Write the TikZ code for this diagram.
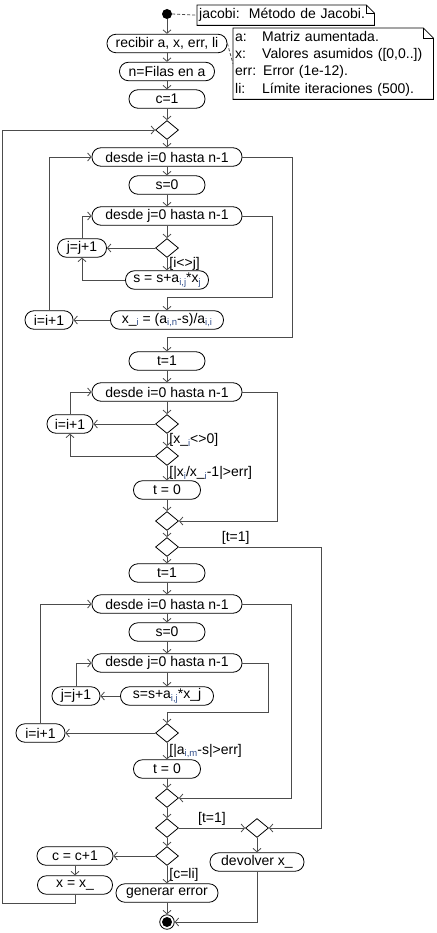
\documentclass[tikz,border=0pt]{standalone}
\usepackage{fontspec}
\setmainfont{Liberation Sans}
\usetikzlibrary{shapes.geometric,arrows.meta}
\definecolor{subazul}{RGB}{50,80,140}
\newcommand{\subi}[1]{\raisebox{-0.35ex}{\fontsize{9.5}{9.5}\selectfont\color{subazul}#1}}
\newcommand{\dibujanota}[2]{%
  \draw[line width=0.8pt] (#1.south west) -- (#1.north west) -- ([xshift=-#2]#1.north east)
    -- ([yshift=-#2]#1.north east) -- (#1.south east) -- cycle;
  \draw[line width=0.8pt] ([xshift=-#2]#1.north east) |- ([yshift=-#2]#1.north east);}
\tikzset{
  actividad/.style={draw, line width=0.8pt, rounded corners=9pt, minimum height=18.5pt,
    inner xsep=3pt, inner ysep=1pt, font=\fontsize{14}{16}\selectfont},
  decision/.style={draw, line width=0.8pt, diamond, minimum width=23pt, minimum height=19pt, inner sep=0pt},
  flujo/.style={draw=black!70, line width=0.8pt, -{Straight Barb[length=3.5pt,width=8pt]}},
  nota/.style={inner sep=2pt, anchor=north west, align=left, font=\fontsize{14}{17.3}\selectfont},
  enlace/.style={draw=black!70, line width=0.8pt, dash pattern=on 3pt off 2pt},
  etiqueta/.style={font=\fontsize{14}{16}\selectfont, inner sep=2pt},
}
\begin{document}
\begin{tikzpicture}[x=1pt,y=-1pt]
\useasboundingbox (0,0) rectangle (436,933);

% Inicio y notas
\node[circle, fill, minimum size=10pt, inner sep=0pt] (inicio) at (167,14) {};
\node[nota, text width=173pt, minimum height=20pt] (nota1) at (197,5) {jacobi:\ \ Método de Jacobi.};
\dibujanota{nota1}{8pt}
\node[nota, text width=196pt, minimum height=71pt] (nota2) at (233,28) {%
  \makebox[27pt][l]{a:}Matriz aumentada.\\
  \makebox[27pt][l]{x:}Valores asumidos ([0,0..])\\
  err: Error (1e-12).\\
  \makebox[27pt][l]{li:}Límite iteraciones (500).};
\dibujanota{nota2}{10pt}

% Entrada
\node[actividad, minimum width=120pt] (recibir) at (167,43.5) {recibir a, x, err, li};
\node[actividad, minimum width=95pt] (filas) at (167,71.5) {n=Filas en a};
\node[actividad, minimum width=76pt] (c1) at (167,99) {c=1};
\node[decision] (d0) at (167,130) {};

% Primer bucle: nuevos x_
\node[actividad, minimum width=150pt] (desdei1) at (167,157) {desde i=0 hasta n-1};
\node[actividad, minimum width=76pt] (s1) at (167,185) {s=0};
\node[actividad, minimum width=150pt] (desdej1) at (167,216) {desde j=0 hasta n-1};
\node[decision] (d1) at (167,248) {};
\node[actividad, minimum width=49pt] (incj1) at (82,248) {j=j+1};
\node[actividad, minimum width=83pt] (suma1) at (167,280) {s = s+a\subi{i,j}*x\subi{j}};
\node[actividad, minimum width=113pt] (xi) at (167,320) {x\_\subi{i} = (a\subi{i,n}-s)/a\subi{i,i}};
\node[actividad, minimum width=48pt] (inci1) at (49,320) {i=i+1};

% Comprobacion del error
\node[actividad, minimum width=76pt] (t1) at (167,361) {t=1};
\node[actividad, minimum width=150pt] (desdei2) at (167,392) {desde i=0 hasta n-1};
\node[decision] (d2) at (167,424) {};
\node[actividad, minimum width=46pt] (inci2) at (70,424) {i=i+1};
\node[decision] (d3) at (167,456) {};
\node[actividad, minimum width=67pt] (t0) at (167,490) {t = 0};
\node[decision] (d4) at (167,521) {};
\node[decision] (d5) at (167,547) {};

% Segundo bucle: residuos
\node[actividad, minimum width=76pt] (t1b) at (167,573) {t=1};
\node[actividad, minimum width=150pt] (desdei3) at (167,604) {desde i=0 hasta n-1};
\node[actividad, minimum width=76pt] (s2) at (167,632) {s=0};
\node[actividad, minimum width=150pt] (desdej3) at (167,663) {desde j=0 hasta n-1};
\node[actividad, minimum width=93pt] (suma2) at (167,696) {s=s+a\subi{i,j}*x\_j};
\node[actividad, minimum width=48pt] (incj3) at (76,696) {j=j+1};
\node[decision] (d6) at (167,733) {};
\node[actividad, minimum width=49pt] (inci3) at (40.5,733) {i=i+1};
\node[actividad, minimum width=67pt] (t0b) at (167,769) {t = 0};
\node[decision] (d7) at (167,798) {};

% Salida
\node[decision] (d8) at (167,828) {};
\node[decision] (d9) at (257,828) {};
\node[actividad, minimum width=94pt] (devolver) at (257,862) {devolver x\_};
\node[decision] (d10) at (167,856) {};
\node[actividad, minimum width=76pt] (cmas) at (75,856) {c = c+1};
\node[actividad, minimum width=75pt] (xnuevo) at (75,885) {x = x\_};
\node[actividad, minimum width=102pt] (error) at (167,893) {generar error};
\node[circle, draw, line width=0.8pt, minimum size=14.5pt, inner sep=0pt] (fin) at (167,922) {};
\fill (fin.center) circle (5pt);

% Enlaces de notas
\draw[enlace] (inicio.east) -- (nota1.west);
\draw[enlace] (recibir.east) -- (nota2.west);

% Flujo principal
\draw[flujo] (inicio) -- (recibir);
\draw[flujo] (recibir) -- (filas);
\draw[flujo] (filas) -- (c1);
\draw[flujo] (c1) -- (d0);
\draw[flujo] (d0) -- (desdei1);
\draw[flujo] (desdei1) -- (s1);
\draw[flujo] (s1) -- (desdej1);
\draw[flujo] (desdej1) -- (d1);
\draw[flujo] (d1.west) -- (incj1.east);
\draw[flujo] (d1) -- node[etiqueta, right] {[i<>j]} (suma1);
\draw[flujo] (suma1.west) -| (incj1.south);
\draw[flujo] (incj1.north) |- (desdej1.west);
\coordinate (r1) at (272,297);
\draw[flujo] (desdej1.east) -| (r1) -| (xi.north);
\draw[flujo] (xi.west) -- (inci1.east);
\draw[flujo] (inci1.north) |- (desdei1.west);
\coordinate (r2) at (292,337);
\draw[flujo] (desdei1.east) -| (r2) -| (t1.north);

\draw[flujo] (t1) -- (desdei2);
\draw[flujo] (desdei2) -- (d2);
\draw[flujo] (d2.west) -- (inci2.east);
\draw[flujo] (d2) -- node[etiqueta, right] {[x\_\subi{i}<>0]} (d3);
\draw[flujo] (d3.west) -| (inci2.south);
\draw[flujo] (inci2.north) |- (desdei2.west);
\draw[flujo] (d3) -- node[etiqueta, right] {[|x\subi{i}/x\_\subi{i}-1|>err]} (t0);
\draw[flujo] (t0) -- (d4);
\coordinate (r3) at (277,521);
\draw[flujo] (desdei2.east) -| (r3) -- (d4.east);
\draw[flujo] (d4) -- (d5);
\coordinate (r4) at (321,828);
\draw[flujo] (d5.east) -| node[etiqueta, pos=0.2, above] {[t=1]} (r4) -- (d9.east);

\draw[flujo] (d5) -- (t1b);
\draw[flujo] (t1b) -- (desdei3);
\draw[flujo] (desdei3) -- (s2);
\draw[flujo] (s2) -- (desdej3);
\draw[flujo] (desdej3) -- (suma2);
\draw[flujo] (suma2.west) -- (incj3.east);
\draw[flujo] (incj3.north) |- (desdej3.west);
\coordinate (r5) at (268,712);
\draw[flujo] (desdej3.east) -| (r5) -| (d6.north);
\draw[flujo] (d6.west) -- (inci3.east);
\draw[flujo] (inci3.north) |- (desdei3.west);
\draw[flujo] (d6) -- node[etiqueta, right] {[|a\subi{i,m}-s|>err]} (t0b);
\draw[flujo] (t0b) -- (d7);
\coordinate (r6) at (291,798);
\draw[flujo] (desdei3.east) -| (r6) -- (d7.east);

\draw[flujo] (d7) -- (d8);
\draw[flujo] (d8.east) -- node[etiqueta, above] {[t=1]} (d9.west);
\draw[flujo] (d9) -- (devolver);
\draw[flujo] (devolver.south) |- (fin.east);
\draw[flujo] (d8) -- (d10);
\draw[flujo] (d10.west) -- (cmas.east);
\draw[flujo] (d10) -- node[etiqueta, right] {[c=li]} (error);
\draw[flujo] (error) -- (fin);
\draw[flujo] (cmas) -- (xnuevo);
\coordinate (esq) at (2,903);
\draw[flujo] (xnuevo.south) |- (esq) |- (d0.west);
\end{tikzpicture}
\end{document}
